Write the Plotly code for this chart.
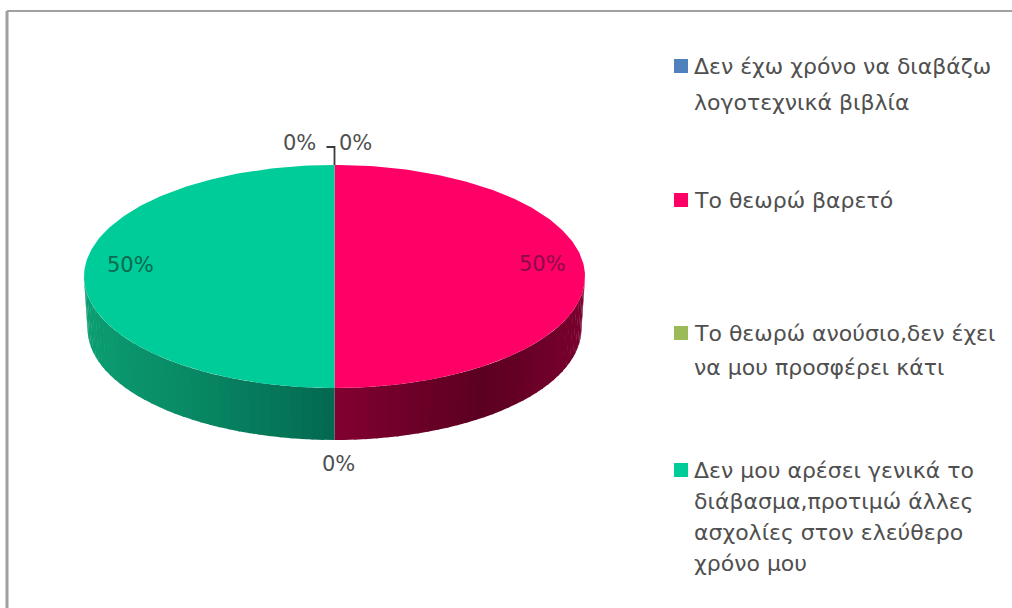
import math
import plotly.graph_objects as go

categories = ["Δεν έχω χρόνο να διαβάζω λογοτεχνικά βιβλία", "Το θεωρώ βαρετό",
              "Το θεωρώ ανούσιο,δεν έχει να μου προσφέρει κάτι",
              "Δεν μου αρέσει γενικά το διάβασμα,προτιμώ άλλες ασχολίες στον ελεύθερο χρόνο μου"]
values = [0, 50, 0, 50]
percent_labels = ["0%", "50%", "0%", "50%"]
legend_lines = [["Δεν έχω χρόνο να διαβάζω", "λογοτεχνικά βιβλία"],
                ["Το θεωρώ βαρετό"],
                ["Το θεωρώ ανούσιο,δεν έχει", "να μου προσφέρει κάτι"],
                ["Δεν μου αρέσει γενικά το", "διάβασμα,προτιμώ άλλες", "ασχολίες στον ελεύθερο", "χρόνο μου"]]

COLORS = ["#4f81bd", "#ff0066", "#9bbb59", "#00cc99"]
CX, CY, RX, RY, DEPTH = 334.5, 276.5, 250.5, 111.5, 52
BOTTOM_RX = RX - 3.5
TEXT = "#4f4f4f"
FONT = "DejaVu Sans"
FS = 21
LEGEND_FS = 22


def pt(a, dy=0.0, rx=RX):
    return CX + rx * math.sin(a), CY - RY * math.cos(a) + dy


def lerp(c0, c1, t):
    return "rgb(%d,%d,%d)" % tuple(int(p + (q - p) * t) for p, q in zip(c0, c1))


def shade(a):
    s = math.sin(a)
    if s < 0:  # green rim: lighter toward the left edge
        return lerp((4, 104, 80), (12, 158, 114), abs(s) ** 0.9)
    if s < 0.6:  # red rim: darkens from the front toward the right
        return lerp((130, 0, 48), (92, 0, 34), s / 0.6)
    return lerp((92, 0, 34), (122, 0, 46), (s - 0.6) / 0.4)


fig = go.Figure()
total = sum(values)

start = 0.0
wedges = []
for v, col in zip(values, COLORS):
    sweep = 2 * math.pi * v / total
    wedges.append((start, start + sweep, col))
    start += sweep

for a0, a1, col in wedges:
    if a1 <= a0:
        continue
    lo, hi = max(a0, math.pi / 2), min(a1, 3 * math.pi / 2)
    n = max(int((hi - lo) / math.radians(2.5)), 1)
    for i in range(n):
        s0 = lo + (hi - lo) * i / n
        s1 = min(lo + (hi - lo) * (i + 1.15) / n, hi)
        p = [pt(s0), pt(s1), pt(s1, DEPTH, BOTTOM_RX), pt(s0, DEPTH, BOTTOM_RX), pt(s0)]
        fig.add_trace(go.Scatter(x=[q[0] for q in p], y=[q[1] for q in p], mode="lines",
                                 fill="toself", fillcolor=shade((s0 + s1) / 2),
                                 line=dict(width=0), hoverinfo="skip", showlegend=False))

for (a0, a1, col), name in zip(wedges, categories):
    if a1 <= a0:
        continue
    n = 180
    arc = [pt(a0 + (a1 - a0) * i / n) for i in range(n + 1)]
    p = [(CX, CY)] + arc + [(CX, CY)]
    fig.add_trace(go.Scatter(x=[q[0] for q in p], y=[q[1] for q in p], mode="lines",
                             fill="toself", fillcolor=col, line=dict(width=0, color=col),
                             name=name, hoverinfo="name", showlegend=False))

fig.add_trace(go.Scatter(x=[CX, CX, CX - 8], y=[CY - RY, 147, 147], mode="lines",
                         line=dict(color="#3a3a3a", width=1.8), hoverinfo="skip", showlegend=False))

annotations = []
label_pos = [(299, 143, TEXT), (542, 264, "#8c0a4a"), (338, 464, TEXT), (130, 265, "#0a6a50")]
for txt, (x, y, c) in zip(percent_labels, label_pos):
    annotations.append(dict(x=x, y=y, text=txt, showarrow=False, xref="x", yref="y",
                            font=dict(family=FONT, size=FS, color=c)))
annotations.append(dict(x=355, y=143, text="0%", showarrow=False, xref="x", yref="y",
                        font=dict(family=FONT, size=FS, color=TEXT)))

line_y = [[66, 102], [200], [333, 367], [470, 501, 532, 563]]
for lines, ys, col in zip(legend_lines, line_y, COLORS):
    fig.add_trace(go.Scatter(x=[681], y=[ys[0]], mode="markers",
                             marker=dict(symbol="square", size=14, color=col),
                             hoverinfo="skip", showlegend=False))
    for t, y in zip(lines, ys):
        annotations.append(dict(x=691.5, y=y, text=t, showarrow=False, xref="x", yref="y",
                                xanchor="left", font=dict(family=FONT, size=LEGEND_FS, color=TEXT)))

shapes = [
    dict(type="line", xref="x", yref="y", x0=7, y0=11, x1=1012, y1=11, line=dict(color="#a0a0a0", width=2)),
    dict(type="line", xref="x", yref="y", x0=7, y0=11, x1=7, y1=608, line=dict(color="#a0a0a0", width=3)),
]

fig.update_layout(
    width=1012, height=608, margin=dict(l=0, r=0, t=0, b=0),
    paper_bgcolor="white", plot_bgcolor="white", annotations=annotations, shapes=shapes,
    xaxis=dict(range=[0, 1012], visible=False, fixedrange=True),
    yaxis=dict(range=[608, 0], visible=False, fixedrange=True),
)
fig.write_html("out.html", config=dict(displayModeBar=False),
               post_script="document.body.style.margin='0';document.documentElement.style.overflow='hidden';")
